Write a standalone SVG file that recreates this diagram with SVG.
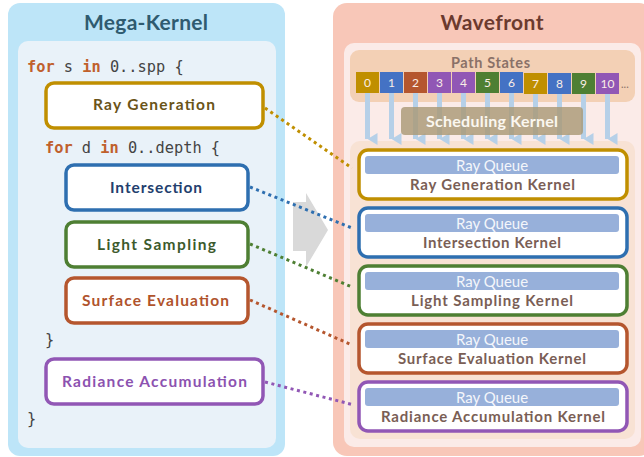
<svg xmlns="http://www.w3.org/2000/svg" width="644" height="457" viewBox="0 0 644 457">
<defs>
<style>
.title{font-family:Lato,"Open Sans",sans-serif;font-weight:bold;font-size:21px;text-anchor:middle}
.code{font-family:"DejaVu Sans Mono",monospace;font-size:15.3px;fill:#444}
.kw{fill:#c0602c;font-weight:bold}
.box{fill:#fff;stroke-width:3.5}
.lbl{font-family:Lato,"Open Sans",sans-serif;font-weight:bold;font-size:15.5px;text-anchor:middle}
.cell{font-family:Lato,"Open Sans",sans-serif;font-size:12px;fill:#fbeee6;text-anchor:middle}
.q{fill:#97b0da}
.qt{font-family:Lato,"Open Sans",sans-serif;font-size:15px;fill:#f4f6fb;text-anchor:middle}
.kt{font-family:Lato,"Open Sans",sans-serif;font-weight:bold;font-size:15px;fill:#7a5e55;text-anchor:middle}
.dot{fill:none;stroke-width:3;stroke-dasharray:3 3.6}
.arr{stroke:#b6d0e8;stroke-width:5}
</style>
<marker id="ah" viewBox="0 0 12 10" refX="6" refY="10" markerWidth="12" markerHeight="10" markerUnits="userSpaceOnUse" orient="auto-start-reverse">
<path d="M0,0 L12,0 L6,10 Z" fill="#b6d0e8"/>
</marker>
</defs>

<!-- Left panel -->
<g id="mega-kernel">
<rect x="8" y="3" width="277" height="453" rx="12" fill="#bde5f8"/>
<rect x="18" y="41" width="258" height="407" rx="10" fill="#e9f2f9"/>
<text class="title" x="146" y="30" fill="#2f5b70" textLength="124" lengthAdjust="spacing">Mega-Kernel</text>
<text class="code" x="27" y="72"><tspan class="kw">for</tspan> s <tspan class="kw">in</tspan> 0..spp {</text>
<text class="code" x="45" y="153"><tspan class="kw">for</tspan> d <tspan class="kw">in</tspan> 0..depth {</text>
<text class="code" x="45" y="345">}</text>
<text class="code" x="27" y="424">}</text>
</g>

<g id="ray-generation">
<rect class="box" x="46" y="83" width="217" height="45" rx="8" stroke="#c08f00"/>
<text class="lbl" x="154" y="110" fill="#6a5418" textLength="122" lengthAdjust="spacing">Ray Generation</text>
</g>
<g id="intersection">
<rect class="box" x="66" y="165" width="182" height="45" rx="8" stroke="#2e6fb0"/>
<text class="lbl" x="156" y="193" fill="#233f6e" textLength="92" lengthAdjust="spacing">Intersection</text>
</g>
<g id="light-sampling">
<rect class="box" x="66" y="222" width="182" height="45" rx="8" stroke="#4e7f33"/>
<text class="lbl" x="156.5" y="250" fill="#3c5a2c" textLength="119" lengthAdjust="spacing">Light Sampling</text>
</g>
<g id="surface-evaluation">
<rect class="box" x="66" y="278" width="182" height="45" rx="8" stroke="#b5562e"/>
<text class="lbl" x="155.5" y="306" fill="#b0532c" textLength="147" lengthAdjust="spacing">Surface Evaluation</text>
</g>
<g id="radiance-accumulation">
<rect class="box" x="46" y="359" width="217" height="45" rx="8" stroke="#9157b5"/>
<text class="lbl" x="154.5" y="387" fill="#8c52b0" textLength="185" lengthAdjust="spacing">Radiance Accumulation</text>
</g>

<!-- Middle arrow -->
<g id="transform-arrow">
<path d="M293,202 L306,202 L306,193 L328,230 L306,267 L306,251 L293,251 Z" fill="#d9d9d9"/>
</g>

<!-- Right panel -->
<g id="wavefront">
<rect x="333" y="3" width="320" height="453" rx="14" fill="#f8c7b8"/>
<rect x="344" y="43" width="297" height="404" rx="10" fill="#fbebe8"/>
<text class="title" x="492" y="30" fill="#6b3a2e" textLength="103" lengthAdjust="spacing">Wavefront</text>
</g>

<g id="path-states">
<rect x="350" y="50" width="285" height="52" rx="9" fill="#f3d0b5"/>
<text x="490.5" y="68" font-family="Lato,'Open Sans',sans-serif" font-weight="bold" font-size="14.5px" fill="#8a7168" text-anchor="middle" textLength="79" lengthAdjust="spacing">Path States</text>
<rect x="356" y="72" width="23" height="21" fill="#c08f00"/><text class="cell" x="367.5" y="87">0</text>
<rect x="380" y="72" width="23" height="21" fill="#4472c4"/><text class="cell" x="391.5" y="87">1</text>
<rect x="404" y="72" width="23" height="21" fill="#b5562e"/><text class="cell" x="415.5" y="87">2</text>
<rect x="428" y="72" width="23" height="21" fill="#9157b5"/><text class="cell" x="439.5" y="87">3</text>
<rect x="452" y="72" width="23" height="21" fill="#9157b5"/><text class="cell" x="463.5" y="87">4</text>
<rect x="476" y="72" width="23" height="21" fill="#4e7f33"/><text class="cell" x="487.5" y="87">5</text>
<rect x="500" y="72" width="23" height="21" fill="#4472c4"/><text class="cell" x="511.5" y="87">6</text>
<rect x="524" y="73" width="23" height="21" fill="#c08f00"/><text class="cell" x="535.5" y="88">7</text>
<rect x="548" y="73" width="23" height="21" fill="#4472c4"/><text class="cell" x="559.5" y="88">8</text>
<rect x="572" y="73" width="23" height="21" fill="#4e7f33"/><text class="cell" x="583.5" y="88">9</text>
<rect x="596" y="73" width="23" height="21" fill="#9157b5"/><text class="cell" x="607.5" y="88">10</text>
<text x="621" y="88" font-family="Lato,'Open Sans',sans-serif" font-size="11px" fill="#8a7168">...</text>
</g>

<g id="queue-area">
<rect x="350" y="141" width="285" height="298" rx="10" fill="#f8e2d4"/>
</g>

<g id="state-arrows">
<line class="arr" x1="367.5" y1="93" x2="367.5" y2="139" marker-end="url(#ah)"/>
<line class="arr" x1="391.5" y1="93" x2="391.5" y2="139" marker-end="url(#ah)"/>
<line class="arr" x1="415.5" y1="93" x2="415.5" y2="139" marker-end="url(#ah)"/>
<line class="arr" x1="439.5" y1="93" x2="439.5" y2="139" marker-end="url(#ah)"/>
<line class="arr" x1="463.5" y1="93" x2="463.5" y2="139" marker-end="url(#ah)"/>
<line class="arr" x1="487.5" y1="93" x2="487.5" y2="139" marker-end="url(#ah)"/>
<line class="arr" x1="511.5" y1="93" x2="511.5" y2="139" marker-end="url(#ah)"/>
<line class="arr" x1="535.5" y1="94" x2="535.5" y2="139" marker-end="url(#ah)"/>
<line class="arr" x1="559.5" y1="94" x2="559.5" y2="139" marker-end="url(#ah)"/>
<line class="arr" x1="583.5" y1="94" x2="583.5" y2="139" marker-end="url(#ah)"/>
<line class="arr" x1="607.5" y1="94" x2="607.5" y2="139" marker-end="url(#ah)"/>
</g>

<g id="scheduling-kernel">
<rect x="401" y="107" width="182" height="28" rx="4" fill="#a99876" fill-opacity="0.82"/>
<text x="492" y="127" font-family="Lato,'Open Sans',sans-serif" font-weight="bold" font-size="16px" fill="#fbf7f0" text-anchor="middle" textLength="132" lengthAdjust="spacing">Scheduling Kernel</text>
</g>

<g id="ray-generation-kernel">
<rect class="box" x="359" y="150" width="268" height="49" rx="9" stroke="#c08f00"/>
<rect class="q" x="365" y="156" width="254" height="18" rx="3"/>
<text class="qt" x="492" y="171">Ray Queue</text>
<text class="kt" x="492.5" y="190" textLength="165" lengthAdjust="spacing">Ray Generation Kernel</text>
</g>
<g id="intersection-kernel">
<rect class="box" x="359" y="208" width="268" height="49" rx="9" stroke="#2e6fb0"/>
<rect class="q" x="365" y="214" width="254" height="18" rx="3"/>
<text class="qt" x="492" y="229">Ray Queue</text>
<text class="kt" x="492" y="248" textLength="138" lengthAdjust="spacing">Intersection Kernel</text>
</g>
<g id="light-sampling-kernel">
<rect class="box" x="359" y="266" width="268" height="49" rx="9" stroke="#4e7f33"/>
<rect class="q" x="365" y="272" width="254" height="18" rx="3"/>
<text class="qt" x="492" y="287">Ray Queue</text>
<text class="kt" x="492" y="306" textLength="162" lengthAdjust="spacing">Light Sampling Kernel</text>
</g>
<g id="surface-evaluation-kernel">
<rect class="box" x="359" y="324" width="268" height="49" rx="9" stroke="#b5562e"/>
<rect class="q" x="365" y="330" width="254" height="18" rx="3"/>
<text class="qt" x="492" y="345">Ray Queue</text>
<text class="kt" x="492" y="364" textLength="188" lengthAdjust="spacing">Surface Evaluation Kernel</text>
</g>
<g id="radiance-accumulation-kernel">
<rect class="box" x="359" y="382" width="268" height="49" rx="9" stroke="#9157b5"/>
<rect class="q" x="365" y="388" width="254" height="18" rx="3"/>
<text class="qt" x="492" y="403">Ray Queue</text>
<text class="kt" x="493" y="422" textLength="224" lengthAdjust="spacing">Radiance Accumulation Kernel</text>
</g>

<g id="connectors">
<line class="dot" x1="265" y1="108" x2="352" y2="168" stroke="#c08f00"/>
<line class="dot" x1="250" y1="187" x2="352" y2="228" stroke="#2e6fb0"/>
<line class="dot" x1="250" y1="244" x2="352" y2="287" stroke="#4e7f33"/>
<line class="dot" x1="250" y1="300" x2="352" y2="345" stroke="#b5562e"/>
<line class="dot" x1="265" y1="382" x2="354" y2="405" stroke="#9157b5"/>
</g>
</svg>
